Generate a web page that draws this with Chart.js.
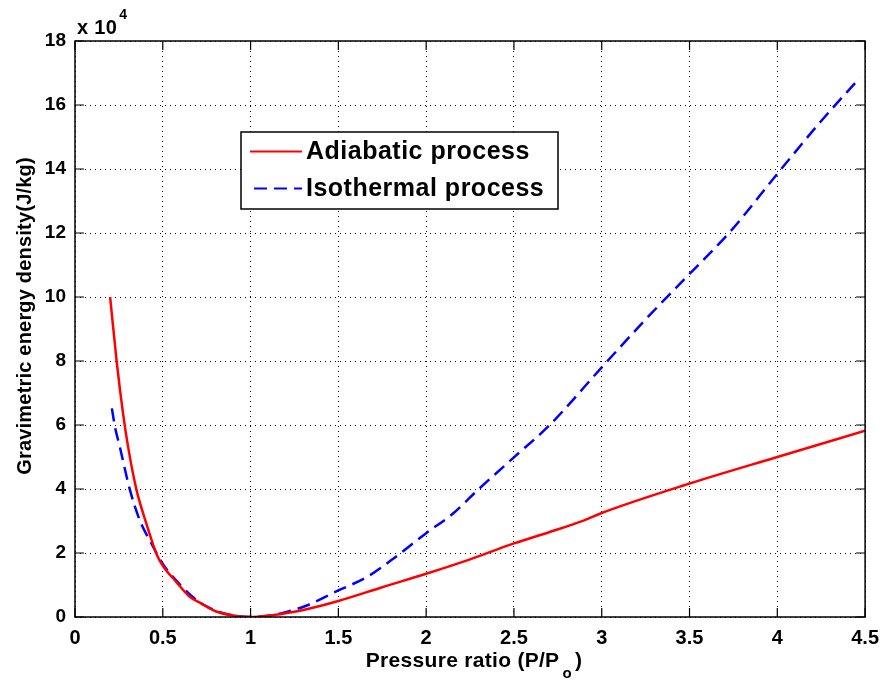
<!DOCTYPE html>
<html>
<head>
<meta charset="utf-8">
<script src="https://cdn.jsdelivr.net/npm/chart.js@4/dist/chart.umd.min.js"></script>
<style>
html,body{margin:0;padding:0;background:#fff;}
#wrap{width:888px;height:680px;position:relative;}
</style>
</head>
<body>
<div id="wrap"><canvas id="c" width="888" height="680"></canvas></div>
<script>
// Data (energy density in units of 10^4 J/kg)
const adiabaticX = [0.2,0.237,0.274,0.303,0.35,0.407,0.464,0.5,0.578,0.65,0.72,0.8,0.9,1.0,1.1,1.2,1.3,1.5,1.75,2.0,2.25,2.5,2.7,2.9,3.0,3.5,4.0,4.5];
const adiabaticY = [10.0,8.0,6.35,5.3,3.98,2.91,1.97,1.6,1.09,0.65,0.42,0.18,0.05,0,0.04,0.12,0.22,0.5,0.93,1.35,1.8,2.3,2.65,3.02,3.25,4.17,5.0,5.82];
const isothermalX = [0.21,0.227,0.256,0.3125,0.369,0.436,0.5,0.6,0.7,0.8,0.9,1.0,1.1,1.2,1.32,1.5,1.66,1.8,2.0,2.15,2.3,2.5,2.7,3.0,3.25,3.5,3.73,4.0,4.25,4.47];
const isothermalY = [6.52,5.96,5.3,3.98,3.02,2.29,1.66,1.0,0.5,0.2,0.05,0,0.04,0.15,0.36,0.83,1.24,1.77,2.62,3.22,4.0,4.99,5.98,7.8,9.3,10.72,12.03,13.85,15.5,16.85];
const seriesNames = ["Adiabatic process","Isothermal process"];
const xTitle = "Pressure ratio (P/P";
const xTitleSub = "o";
const yTitle = "Gravimetric energy density(J/kg)";
const exponentLabel = "x 10";
const exponentSup = "4";

const FONT = '"Liberation Sans", Arial, Helvetica, sans-serif';

const toPts = (xs, ys) => xs.map((x, i) => ({x: x, y: ys[i]}));

const decor = {
  id: 'decor',
  afterDatasetsDraw(chart) {
    const ctx = chart.ctx;
    const a = chart.chartArea;
    const xs = chart.scales.x, ys = chart.scales.y;
    ctx.save();
    // box
    ctx.strokeStyle = '#000';
    ctx.lineWidth = 1.5;
    ctx.strokeRect(a.left, a.top, a.right - a.left, a.bottom - a.top);
    // inward ticks
    const tl = 9;
    ctx.lineWidth = 1.2;
    ctx.beginPath();
    xs.ticks.forEach(t => {
      const p = xs.getPixelForValue(t.value);
      ctx.moveTo(p, a.bottom); ctx.lineTo(p, a.bottom - tl);
      ctx.moveTo(p, a.top); ctx.lineTo(p, a.top + tl);
    });
    ys.ticks.forEach(t => {
      const p = ys.getPixelForValue(t.value);
      ctx.moveTo(a.left, p); ctx.lineTo(a.left + tl, p);
      ctx.moveTo(a.right, p); ctx.lineTo(a.right - tl, p);
    });
    ctx.stroke();

    // legend
    const lx = 241, ly = 132, lw = 317, lh = 77;
    ctx.fillStyle = '#fff';
    ctx.fillRect(lx, ly, lw, lh);
    ctx.strokeStyle = '#000';
    ctx.lineWidth = 1.5;
    ctx.strokeRect(lx, ly, lw, lh);
    const rows = [151.5, 188.5];
    chart.data.datasets.forEach((ds, i) => {
      ctx.strokeStyle = ds.borderColor;
      ctx.lineWidth = 2;
      ctx.setLineDash(ds.borderDash || []);
      ctx.beginPath();
      ctx.moveTo(i === 1 ? 254 : 250, rows[i]);
      ctx.lineTo(302, rows[i]);
      ctx.stroke();
      ctx.setLineDash([]);
      ctx.fillStyle = '#000';
      ctx.font = 'bold 25px ' + FONT;
      ctx.letterSpacing = '0.5px';
      ctx.textBaseline = 'middle';
      ctx.textAlign = 'left';
      ctx.fillText(ds.label, 306, rows[i] + 1);
      ctx.letterSpacing = '0px';
    });

    // x title with subscript
    ctx.fillStyle = '#000';
    ctx.letterSpacing = '0.3px';
    ctx.font = 'bold 21px ' + FONT;
    ctx.textBaseline = 'alphabetic';
    ctx.textAlign = 'left';
    const w1 = ctx.measureText(xTitle).width;
    ctx.font = 'bold 15px ' + FONT;
    const ws = ctx.measureText(xTitleSub).width;
    ctx.font = 'bold 21px ' + FONT;
    const w2 = ctx.measureText(')').width;
    const total = w1 + ws + 6 + w2;
    const cx = 474;
    let sx = cx - total / 2;
    ctx.fillText(xTitle, sx, 667);
    ctx.font = 'bold 15px ' + FONT;
    ctx.fillText(xTitleSub, sx + w1 + 3, 678);
    ctx.font = 'bold 21px ' + FONT;
    ctx.fillText(')', sx + w1 + ws + 6, 667);

    // y title rotated
    ctx.save();
    ctx.translate(25, 316);
    ctx.rotate(-Math.PI / 2);
    ctx.font = 'bold 20px ' + FONT;
    ctx.letterSpacing = '0.2px';
    ctx.textAlign = 'center';
    ctx.textBaseline = 'middle';
    ctx.fillText(yTitle, 0, 0);
    ctx.restore();

    // exponent label
    ctx.letterSpacing = '0.3px';
    ctx.font = 'bold 20px ' + FONT;
    ctx.textAlign = 'left';
    ctx.textBaseline = 'alphabetic';
    ctx.fillText(exponentLabel, 77, 34);
    const we = ctx.measureText(exponentLabel).width;
    ctx.font = 'bold 14px ' + FONT;
    ctx.fillText(exponentSup, 77 + we + 2, 19);
    ctx.restore();
  }
};

new Chart(document.getElementById('c'), {
  type: 'line',
  data: {
    datasets: [
      {
        label: seriesNames[0],
        data: toPts(adiabaticX, adiabaticY),
        borderColor: '#ff0000',
        borderWidth: 2.5,
        pointRadius: 0,
        fill: false,
        cubicInterpolationMode: 'monotone'
      },
      {
        label: seriesNames[1],
        data: toPts(isothermalX, isothermalY),
        borderColor: '#0000ff',
        borderWidth: 2.5,
        borderDash: [13, 7],
        pointRadius: 0,
        fill: false,
        cubicInterpolationMode: 'monotone'
      }
    ]
  },
  options: {
    responsive: false,
    animation: false,
    events: [],
    layout: { padding: { left: 0, right: 20, top: 41, bottom: 0 } },
    plugins: { legend: { display: false }, tooltip: { enabled: false } },
    scales: {
      x: {
        type: 'linear',
        min: 0, max: 4.5,
        afterFit(s) { s.height = 63; },
        ticks: {
          stepSize: 0.5,
          padding: 9,
          color: '#000',
          font: { family: FONT, size: 20, weight: 'bold' },
          maxRotation: 0,
          callback: v => String(v)
        },
        grid: { color: '#000', lineWidth: 1, drawTicks: false },
        border: { display: false, dash: [1, 4] }
      },
      y: {
        type: 'linear',
        min: 0, max: 18,
        afterFit(s) { s.width = 75; },
        ticks: {
          stepSize: 2,
          padding: 9,
          color: '#000',
          font: { family: FONT, size: 19, weight: 'bold' },
          callback: v => String(v)
        },
        grid: { color: '#000', lineWidth: 1, drawTicks: false },
        border: { display: false, dash: [1, 4] }
      }
    }
  },
  plugins: [decor]
});
</script>
</body>
</html>
